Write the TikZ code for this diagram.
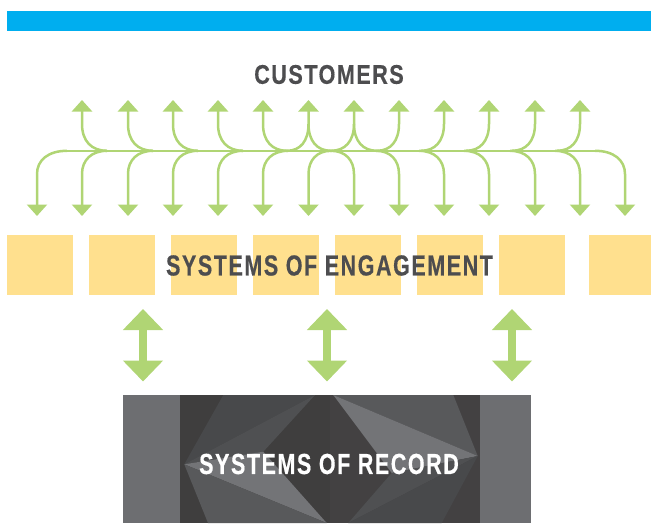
\documentclass[tikz,border=0pt]{standalone}
\usepackage{fontspec}
\newfontfamily\headfont{Liberation Sans Bold}[FakeStretch=0.74,LetterSpace=5.5,FakeBold=0.4]
\newfontfamily\headwide{Liberation Sans Bold}[FakeStretch=0.80,LetterSpace=5.5,FakeBold=0.4]
\usetikzlibrary{arrows.meta,calc}
\definecolor{cyanbar}{HTML}{00AEEF}
\definecolor{sand}{HTML}{FFE08E}
\definecolor{leaf}{HTML}{B0D574}
\definecolor{ink}{HTML}{4D4D4F}
\definecolor{sidegrey}{HTML}{6D6E71}
\definecolor{base}{HTML}{3F3E3E}
\definecolor{baseb}{HTML}{434142}
\definecolor{lightf}{HTML}{737477}
\definecolor{midf}{HTML}{58595B}
\definecolor{mide}{HTML}{4F5052}
\definecolor{midd}{HTML}{48494B}
\tikzset{
  sandbox/.style={fill=sand,inner sep=0pt,minimum height=60pt},
  thin arrow/.style={draw=leaf,line width=2.5pt,-{Triangle[length=11.5pt,width=20pt]}},
  rail/.style={draw=leaf,line width=2.5pt},
  fat arrow/.style={draw=leaf,line width=8.3pt,{Triangle[length=21pt,width=39pt]}-{Triangle[length=21pt,width=39pt]}},
  heading/.style={inner sep=0pt,font=\headfont\fontsize{#1}{#1}\selectfont},
  wideheading/.style={inner sep=0pt,font=\headwide\fontsize{#1}{#1}\selectfont}
}
\begin{document}
\begin{tikzpicture}[x=1pt,y=-1pt]
\useasboundingbox (0,0) rectangle (651,523);
\fill[cyanbar] (7,11) rectangle (651,31);
% yellow boxes
\foreach \n/\a/\w in {1/40/66,2/122/66,3/204/66,4/286/66,5/368/66,6/450/66,7/532/66,8/620/62}
  \node[sandbox,minimum width=\w pt] (box\n) at (\a,265) {};
% rail
\coordinate (railL) at (62,150.8);
\coordinate (railR) at (601,150.8);
\draw[rail] (railL) -- (railR);
% bottom arrows
\foreach \i/\x/\m in {1/37/67,2/82/107,3/128/153,4/173/198,5/218/243,6/263/288,7/308.5/331,8/354/331,9/399/376,10/444/419,11/489/464,12/535/510,13/580/555,14/625/595}{
  \coordinate (d\i) at (\x,216);
  \coordinate (dm\i) at (\m,150.8);
  \draw[thin arrow] (dm\i) .. controls ($(dm\i)!.62!(\x,150.8)$) and (\x,160) .. (\x,174) -- (d\i);
}
% top arrows
\foreach \i/\x/\m in {2/82/107,3/128/153,4/173/198,5/218/243,6/263/287,7/308.5/287,8/354/331,9/399/377,10/444/421,11/489/466,12/535/512,13/580/557}{
  \coordinate (u\i) at (\x,100);
  \coordinate (um\i) at (\m,150.8);
  \draw[thin arrow] (um\i) .. controls ($(um\i)!.62!(\x,150.8)$) and (\x,141) .. (\x,124) -- (u\i);
}
\coordinate (um7b) at (331,150.8);
\coordinate (um8b) at (377,150.8);
\coordinate (ut7b) at (308.5,124);
\coordinate (ut8b) at (354,124);
\draw[rail] (um7b) .. controls ($(um7b)!.62!(308.5,150.8)$) and (308.5,141) .. (ut7b);
\draw[rail] (um8b) .. controls ($(um8b)!.62!(354,150.8)$) and (354,141) .. (ut8b);
% fat arrows
\foreach \i/\x in {1/143,2/327,3/512}{
  \coordinate (fa\i) at (\x,309);
  \coordinate (fb\i) at (\x,381.5);
  \draw[fat arrow] (fa\i) -- (fb\i);
}
% record panel
\fill[sidegrey] (123,395) rectangle (531,523);
\fill[base] (180,395) rectangle (330,523);
\fill[baseb] (330,395) rectangle (480,523);
\fill[midd] (184.3,464.3) -- (223.3,395) -- (315,395) -- cycle;
\fill[mide] (184.3,464.3) -- (315,395) -- (263.3,451.7) -- cycle;
\fill[lightf] (184.3,464.3) -- (263.3,451.7) -- (326.7,523) -- cycle;
\fill[midf] (184.3,464.3) -- (326.7,523) -- (208,523) -- cycle;
\fill[midf] (333.3,395) -- (453.3,395) -- (477.7,456) -- cycle;
\fill[lightf] (333.3,395) -- (477.7,456) -- (391.7,473) -- cycle;
\fill[mide] (477.7,456) -- (391.7,473) -- (348.3,523) -- cycle;
\fill[midd] (477.7,456) -- (348.3,523) -- (441.7,523) -- cycle;
% labels
\node[wideheading=27,text=ink] (customers) at (329,74.5) {CUSTOMERS};
\node[heading=29,text=ink] (engagement) at (329.5,265.5) {SYSTEMS OF ENGAGEMENT};
\node[heading=29,text=white] (record) at (329,464) {SYSTEMS OF RECORD};
\end{tikzpicture}
\end{document}
